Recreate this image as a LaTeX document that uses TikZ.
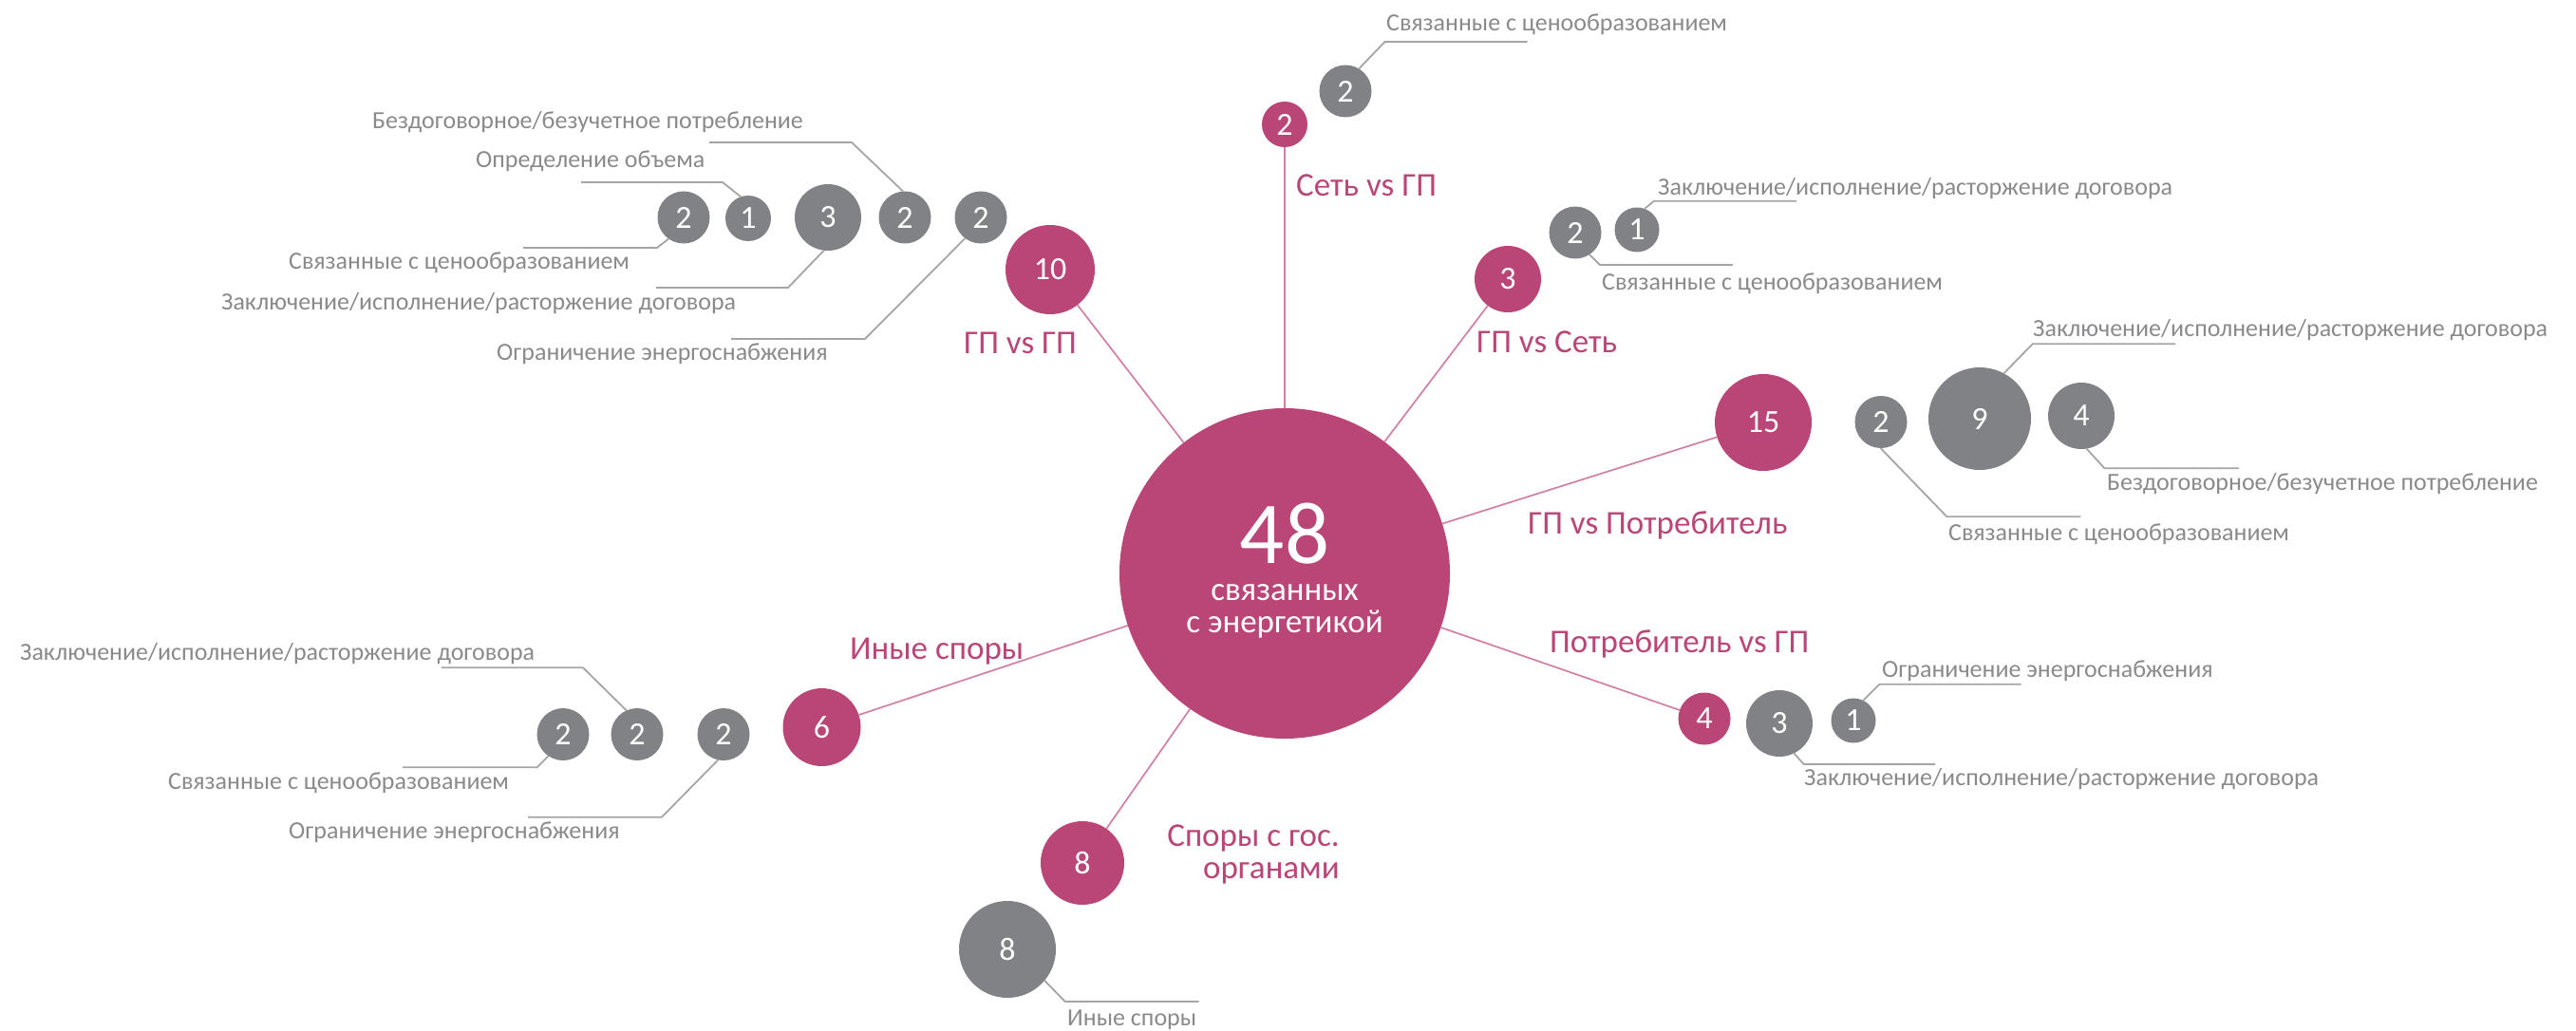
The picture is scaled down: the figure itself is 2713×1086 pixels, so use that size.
\documentclass[tikz,border=0pt]{standalone}
\usepackage{fontspec}
\setmainfont{Carlito}
\definecolor{pinkc}{HTML}{BA4577}
\definecolor{pinkl}{HTML}{D27FA5}
\definecolor{grayc}{HTML}{808285}
\definecolor{graytext}{HTML}{8A8A8C}
\definecolor{leadc}{HTML}{A5A5A7}
\newcommand{\dgNum}{\fontsize{34}{40}\selectfont}
\newcommand{\dgGray}{\fontsize{26}{30}\selectfont}
\newcommand{\dgPink}{\fontsize{35}{34}\selectfont}
\begin{document}
\begin{tikzpicture}[x=1pt,y=-1pt,
  pinkcirc/.style={circle, fill=pinkc, text=white, inner sep=0pt, outer sep=0pt, font=\dgNum},
  graycirc/.style={circle, fill=grayc, text=white, inner sep=0pt, outer sep=0pt, font=\dgNum},
  pinkline/.style={draw=pinkl, line width=1.7pt},
  leader/.style={draw=leadc, line width=1.8pt},
  glabel/.style={text=graytext, font=\dgGray, inner sep=0pt, anchor=base west},
  plabel/.style={text=pinkc, font=\dgPink, inner sep=0pt, anchor=base west},
  ctext/.style={text=white, inner sep=0pt, anchor=base}]
\useasboundingbox (0,0) rectangle (2713,1086);

% centre
\node[pinkcirc, minimum size=348pt] (ctr) at (1353,604) {};
\node[ctext, align=center, font=\fontsize{35}{34}\selectfont] (t48) at (1353,666)
  {{\fontsize{93}{93}\selectfont 48}\\[5pt]связанных\\с энергетикой};

% pink category circles
\node[pinkcirc, minimum size=94pt] (p10) at (1106,284) {10};
\node[pinkcirc, minimum size=48pt] (pS) at (1353,131) {2};
\node[pinkcirc, minimum size=70pt] (p3) at (1588,294) {3};
\node[pinkcirc, minimum size=102pt] (p15) at (1857,445) {15};
\node[pinkcirc, minimum size=55pt] (p4) at (1795,757) {4};
\node[pinkcirc, minimum size=88pt] (p8) at (1140,909) {8};
\node[pinkcirc, minimum size=82pt] (p6) at (865.5,766) {6};

\draw[pinkline] (ctr) -- (p10);
\draw[pinkline] (ctr) -- (pS);
\draw[pinkline] (ctr) -- (p3);
\draw[pinkline] (ctr) -- (p15);
\draw[pinkline] (ctr) -- (p4);
\draw[pinkline] (ctr) -- (p8);
\draw[pinkline] (ctr) -- (p6);

% pink labels
\node[plabel] (l10) at (1015,372) {ГП vs ГП};
\node[plabel] (lS) at (1365,207) {Сеть vs ГП};
\node[plabel] (l3) at (1555,371) {ГП vs Сеть};
\node[plabel] (l15) at (1609,562) {ГП vs Потребитель};
\node[plabel] (l4) at (1632,687) {Потребитель vs ГП};
\node[plabel] (l6) at (895,694) {Иные споры};
\node[plabel, anchor=base east] (l8a) at (1411,891) {Споры с гос.};
\node[plabel, anchor=base east] (l8b) at (1411,925) {органами};

% group ГП vs ГП
\node[graycirc, minimum size=55pt] (gA) at (720,229) {2};
\node[graycirc, minimum size=48pt] (gB) at (788,230) {1};
\node[graycirc, minimum size=70pt] (gC) at (872,229) {3};
\node[graycirc, minimum size=55pt] (gD) at (953,229) {2};
\node[graycirc, minimum size=55pt] (gE) at (1033,229) {2};
\coordinate (eA) at (692,261); \coordinate (tA) at (551,261);
\coordinate (eB) at (761,192); \coordinate (tB) at (612,192);
\coordinate (eC) at (830,303); \coordinate (tC) at (691,303);
\coordinate (eD) at (897,150); \coordinate (tD) at (747,150);
\coordinate (eE) at (911,357); \coordinate (tE) at (770,357);
\draw[leader] (gA.235) -- (eA) -- (tA);
\draw[leader] (gB.109) -- (eB) -- (tB);
\draw[leader] (gC.263) -- (eC) -- (tC);
\draw[leader] (gD.94) -- (eD) -- (tD);
\draw[leader] (gE.233) -- (eE) -- (tE);
\node[glabel] (xA) at (304,283) {Связанные с ценообразованием};
\node[glabel] (xB) at (501,177) {Определение объема};
\node[glabel] (xC) at (233,326) {Заключение/исполнение/расторжение договора};
\node[glabel] (xD) at (392,136) {Бездоговорное/безучетное потребление};
\node[glabel] (xE) at (523,379) {Ограничение энергоснабжения};

% group Сеть vs ГП
\node[graycirc, minimum size=55pt] (gF) at (1417,96) {2};
\coordinate (eF) at (1458.5,44); \coordinate (tF) at (1608.5,44);
\draw[leader] (gF.59) -- (eF) -- (tF);
\node[glabel] (xF) at (1460,33) {Связанные с ценообразованием};

% group ГП vs Сеть
\node[graycirc, minimum size=55pt] (gG) at (1659,245) {2};
\node[graycirc, minimum size=47pt] (gH) at (1724,242) {1};
\coordinate (eG) at (1685,279); \coordinate (tG) at (1825,279);
\coordinate (eH) at (1742,211.7); \coordinate (tH) at (1892,211.7);
\draw[leader] (gG.303) -- (eG) -- (tG);
\draw[leader] (gH.70) -- (eH) -- (tH);
\node[glabel] (xG) at (1687,305) {Связанные с ценообразованием};
\node[glabel] (xH) at (1746,205) {Заключение/исполнение/расторжение договора};

% group ГП vs Потребитель
\node[graycirc, minimum size=55pt] (gI) at (1981,444.5) {2};
\node[graycirc, minimum size=108pt] (gJ) at (2085,441) {9};
\node[graycirc, minimum size=70pt] (gK) at (2192,438) {4};
\coordinate (eI) at (2050.4,544.3); \coordinate (tI) at (2191.4,544.3);
\coordinate (eJ) at (2140.7,362.3); \coordinate (tJ) at (2291,362.3);
\coordinate (eK) at (2216.4,493.3); \coordinate (tK) at (2358,493.3);
\draw[leader] (gI.269) -- (eI) -- (tI);
\draw[leader] (gJ.62) -- (eJ) -- (tJ);
\draw[leader] (gK.279) -- (eK) -- (tK);
\node[glabel] (xI) at (2052,569) {Связанные с ценообразованием};
\node[glabel] (xJ) at (2141,354) {Заключение/исполнение/расторжение договора};
\node[glabel] (xK) at (2219,516) {Бездоговорное/безучетное потребление};

% group Потребитель vs ГП
\node[graycirc, minimum size=70pt] (gL) at (1874,762) {3};
\node[graycirc, minimum size=47pt] (gM) at (1952,759) {1};
\coordinate (eL) at (1899.7,805); \coordinate (tL) at (2038,805);
\coordinate (eM) at (1979.4,720.7); \coordinate (tM) at (2128.5,720.7);
\draw[leader] (gL.296) -- (eL) -- (tL);
\draw[leader] (gM.64) -- (eM) -- (tM);
\node[glabel] (xL) at (1900,827) {Заключение/исполнение/расторжение договора};
\node[glabel] (xM) at (1982,713) {Ограничение энергоснабжения};

% group Иные споры
\node[graycirc, minimum size=55pt] (gN) at (593,773.5) {2};
\node[graycirc, minimum size=55pt] (gO) at (671,773.5) {2};
\node[graycirc, minimum size=55pt] (gP) at (762,773.5) {2};
\coordinate (eN) at (565.5,808.3); \coordinate (tN) at (424,808.3);
\coordinate (eO) at (614,703.3); \coordinate (tO) at (465,703.3);
\coordinate (eP) at (697,860.7); \coordinate (tP) at (556,860.7);
\draw[leader] (gN.236) -- (eN) -- (tN);
\draw[leader] (gO.114) -- (eO) -- (tO);
\draw[leader] (gP.258) -- (eP) -- (tP);
\node[glabel] (xN) at (177,831) {Связанные с ценообразованием};
\node[glabel] (xO) at (21,695) {Заключение/исполнение/расторжение договора};
\node[glabel] (xP) at (304,883) {Ограничение энергоснабжения};

% group Споры с гос. органами
\node[graycirc, minimum size=102pt] (gQ) at (1061,1000) {8};
\coordinate (eQ) at (1121.7,1055); \coordinate (tQ) at (1262.7,1055);
\draw[leader] (gQ.320) -- (eQ) -- (tQ);
\node[glabel] (xQ) at (1124,1080) {Иные споры};
\end{tikzpicture}
\end{document}
